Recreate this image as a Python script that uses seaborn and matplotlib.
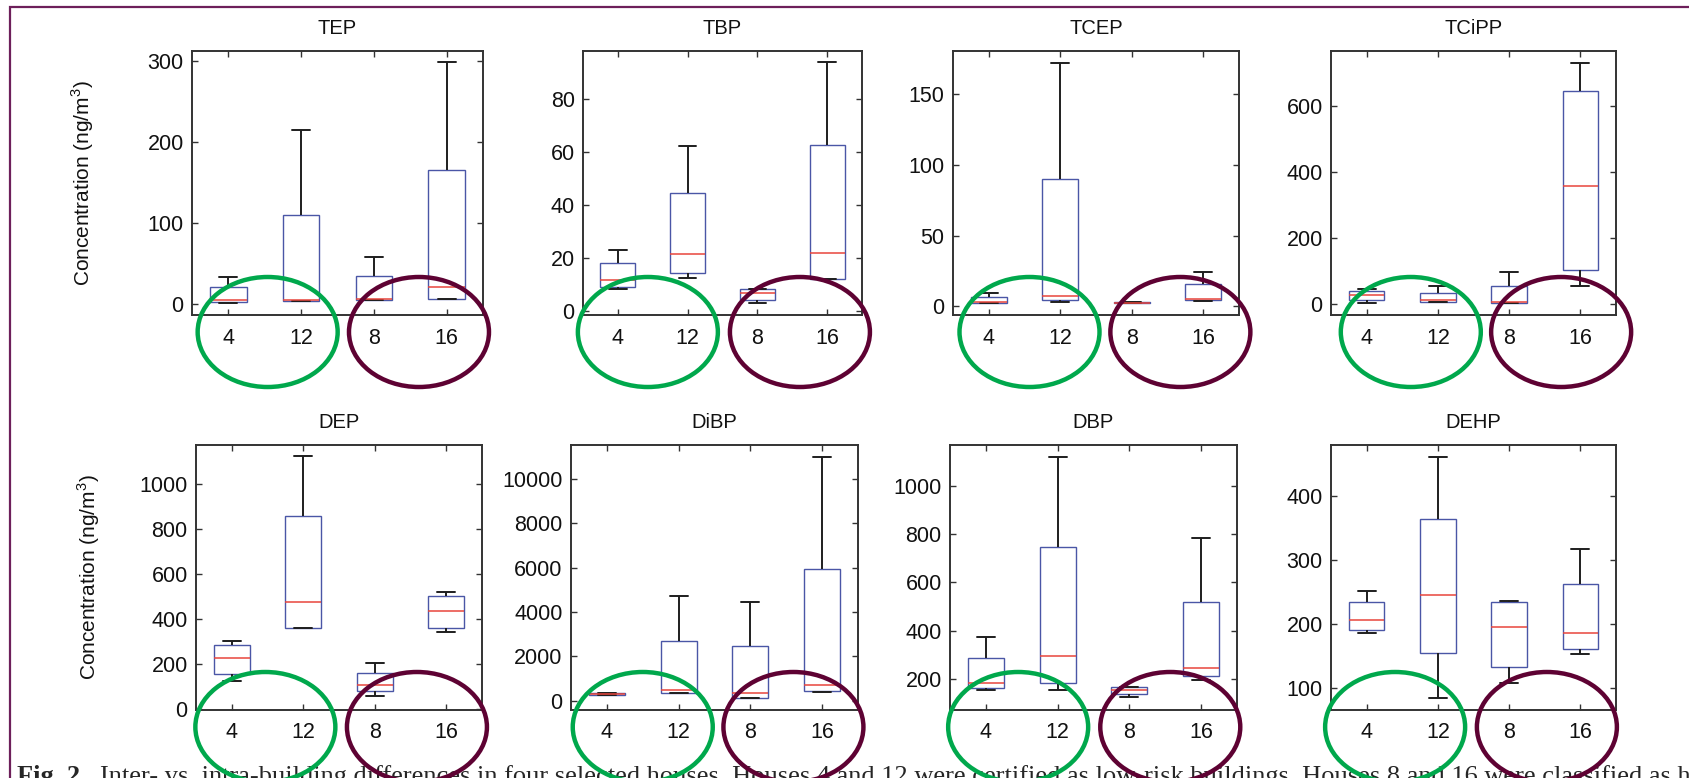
import numpy as np
import pandas as pd
import matplotlib
matplotlib.use("Agg")
import matplotlib.pyplot as plt
import matplotlib.transforms as mtransforms
from matplotlib.patches import Ellipse, Rectangle
import seaborn as sns

# ---------------- data ----------------
houses = ["4", "12", "8", "16"]
compounds = ["TEP", "TBP", "TCEP", "TCiPP", "DEP", "DiBP", "DBP", "DEHP"]

# five-number summaries per house (order 4, 12, 8, 16):
# [lower whisker, Q1, median, Q3, upper whisker]  (ng/m3)
TEP = [[1, 1.6, 5, 20.5, 32.5], [3, 3.7, 4, 110, 215], [5, 5, 6, 34, 58], [6, 6, 20, 165, 299]]
TBP = [[8.2, 8.9, 11.7, 18.2, 23], [12.6, 14.4, 21.5, 44.6, 62.3], [2.9, 4.1, 6.9, 8.2, 8.3], [11.9, 11.9, 21.7, 62.6, 93.8]]
TCEP = [[2.3, 2.3, 3.5, 6.6, 9.8], [3.3, 4.7, 7.5, 89.7, 171.7], [2.5, 2.7, 2.8, 3.0, 3.2], [4.2, 4.7, 5.4, 15.7, 24.6]]
TCiPP = [[4, 12, 27, 39, 47], [7, 7, 12, 34, 54], [2, 2, 7, 54, 98], [54, 103, 358, 648, 732]]
DEP = [[125, 156, 228, 284, 303], [358, 361, 476, 859, 1124], [56, 78, 108, 159, 203], [343, 361, 434, 504, 520]]
DiBP = [[250, 255, 285, 330, 360], [330, 330, 480, 2690, 4715], [135, 135, 360, 2480, 4460], [375, 450, 705, 5920, 10990]]
DBP = [[154, 161, 185, 286, 374], [154, 182, 294, 749, 1120], [123, 138, 154, 165, 165], [196, 214, 244, 519, 784]]
DEHP = [[187, 191, 207, 235, 252], [85, 155, 246, 364, 461], [108, 133, 195, 235, 236], [154, 161, 187, 263, 317]]
summaries = [TEP, TBP, TCEP, TCiPP, DEP, DiBP, DBP, DEHP]

y_limits = [(-14, 312), (-1.5, 98), (-6, 180), (-33, 768),
            (-5, 1175), (-420, 11520), (71, 1170), (66, 480)]
y_ticks = [[0, 100, 200, 300], [0, 20, 40, 60, 80], [0, 50, 100, 150], [0, 200, 400, 600],
           [0, 200, 400, 600, 800, 1000], [0, 2000, 4000, 6000, 8000, 10000],
           [200, 400, 600, 800, 1000], [100, 200, 300, 400]]

ylabel = "Concentration (ng/m$^3$)"
caption_bold = "Fig. 2."
caption_rest = ("Inter- vs. intra-building differences in four selected houses. Houses 4 and 12 were "
                "certified as low-risk buildings. Houses 8 and 16 were classified as high-risk buildings.")

# ---------------- layout (pixels) ----------------
W, H = 1689, 778
rects_px = [(192, 51, 483, 315), (583, 51, 862, 315), (953, 51, 1239, 315), (1331, 51, 1616, 315),
            (196, 445, 482, 710), (571, 445, 858, 710), (950, 445, 1237, 710), (1331, 445, 1616, 710)]
# ellipse centres (category units) for green (4,12) and maroon (8,16) groups
green_cx = [0.54, 0.43, 0.57, 0.62, 0.47, 0.50, 0.45, 0.40]
maroon_cx = [2.62, 2.61, 2.68, 2.73, 2.59, 2.60, 2.57, 2.53]

sns.set_theme(style="ticks")
plt.rcParams["font.family"] = ["Liberation Sans", "DejaVu Sans"]
plt.rcParams["mathtext.fontset"] = "custom"
plt.rcParams["mathtext.rm"] = "Liberation Sans"

fig = plt.figure(figsize=(W / 100, H / 100), dpi=100)
fig.patch.set_facecolor("white")

box_col = "#4a56a6"
med_col = "#e8453c"
line_col = "#1e1e1e"
green = "#00a84c"
maroon = "#5e0233"

for i, (name, summ) in enumerate(zip(compounds, summaries)):
    l, t, r, b = rects_px[i]
    ax = fig.add_axes([l / W, 1 - b / H, (r - l) / W, (b - t) / H])
    df = pd.DataFrame({
        "house": np.repeat(houses, 5),
        "value": np.concatenate([np.asarray(s, dtype=float) for s in summ]),
    })
    sns.boxplot(data=df, x="house", y="value", order=houses, whis=(0, 100), width=0.5,
                fill=True, ax=ax,
                boxprops=dict(facecolor="white", edgecolor=box_col, linewidth=1.0),
                medianprops=dict(color=med_col, linewidth=1.1),
                whiskerprops=dict(color=line_col, linewidth=1.4),
                capprops=dict(color=line_col, linewidth=1.4),
                showfliers=False)
    ax.set_xlim(-0.5, 3.5)
    ax.set_ylim(*y_limits[i])
    ax.set_yticks(y_ticks[i])
    ax.set_xlabel("")
    ax.set_ylabel("")
    ax.set_title(name, fontsize=14.5, pad=12, color="#111111")
    ax.tick_params(axis="both", direction="in", top=True, right=True, length=4, width=1.0,
                   color="#333333", labelsize=15.5, labelcolor="#111111")
    ax.tick_params(axis="y", pad=6)
    ax.tick_params(axis="x", pad=9)
    for sp in ax.spines.values():
        sp.set_visible(True)
        sp.set_color("#333333")
        sp.set_linewidth(1.4)
    ax.set_facecolor("white")
    if i % 4 == 0:
        ax.set_ylabel(ylabel, fontsize=15, color="#111111")
        ax.yaxis.set_label_coords(-0.33, 0.5)

    # annotation ellipses around the tick labels
    trans = mtransforms.blended_transform_factory(ax.transData, ax.transAxes)
    ew = 140 / (r - l) * 4
    eh = 110 / (b - t)
    ecy = -17 / (b - t)
    for cx, col in ((green_cx[i], green), (maroon_cx[i], maroon)):
        e = Ellipse((cx, ecy), ew, eh, transform=trans, fill=False, edgecolor=col,
                    linewidth=3.2, clip_on=False, zorder=10)
        fig.add_artist(e)

# frame border
fig.add_artist(Rectangle((10 / W, -0.1), 1.2, 1 - 7 / H + 0.1, transform=fig.transFigure,
                         fill=False, edgecolor="#6d1f5a", linewidth=1.6, zorder=1))

# caption (cut off at the bottom edge, as in the source)
fig.text(17 / W, 1 - 765 / H, caption_bold, fontsize=19, fontweight="bold",
         family=["Liberation Serif", "DejaVu Serif"], va="top", ha="left", zorder=2)
fig.text(100 / W, 1 - 765 / H, caption_rest, fontsize=19,
         family=["Liberation Serif", "DejaVu Serif"], va="top", ha="left", zorder=2)

fig.savefig("out.png", dpi=100, facecolor="white")
